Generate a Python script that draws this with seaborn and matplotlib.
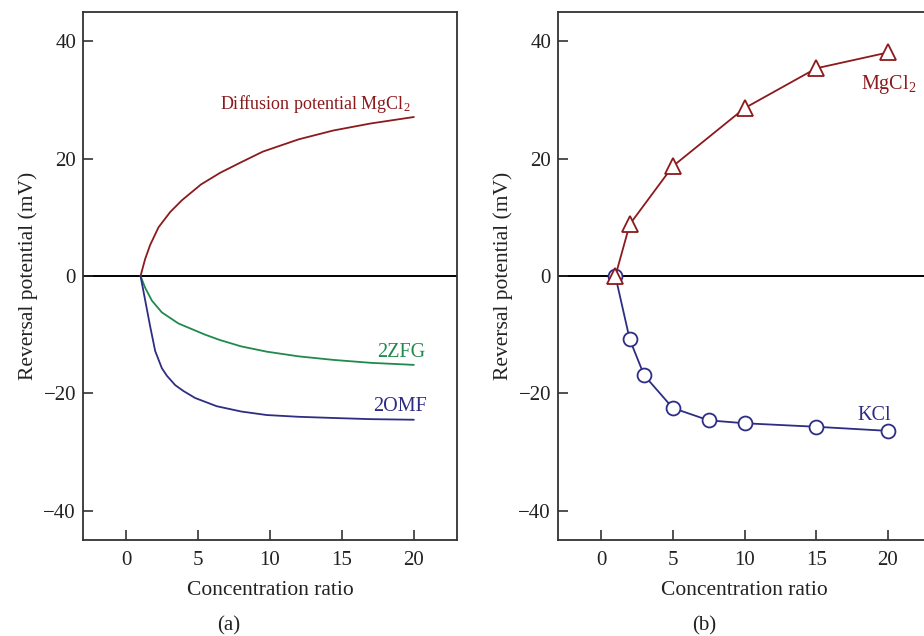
import matplotlib
matplotlib.use("Agg")
import matplotlib.pyplot as plt
import seaborn as sns

# ---- data ----
# panel (a): computed curves
diff_x = [1, 1.32, 1.67, 2.25, 3.06, 3.87, 5.2, 6.54, 8.0, 9.5, 12.0, 14.4, 17.0, 20.0]
diff_y = [0, 2.9, 5.3, 8.3, 10.9, 12.9, 15.6, 17.6, 19.4, 21.2, 23.3, 24.8, 26.0, 27.1]

zfg_x = [1, 1.32, 1.79, 2.48, 3.64, 5.49, 6.5, 8.0, 9.78, 12.0, 14.4, 17.0, 20.0]
zfg_y = [0, -2.0, -4.2, -6.2, -8.1, -10.0, -10.9, -12.0, -12.9, -13.7, -14.3, -14.8, -15.15]

omf_x = [1, 1.32, 1.67, 2.02, 2.48, 2.83, 3.41, 3.98, 4.8, 6.3, 8.0, 9.78, 12.0, 14.4, 17.0, 20.0]
omf_y = [0, -4.1, -8.6, -12.8, -15.7, -17.0, -18.6, -19.6, -20.8, -22.2, -23.1, -23.7, -24.0, -24.2, -24.4, -24.5]

# panel (b): measured points
mg_x = [1, 2, 5, 10, 15, 20]
mg_y = [0, 8.8, 18.7, 28.6, 35.4, 38.1]

kcl_x = [1, 2, 3, 5, 7.5, 10, 15, 20]
kcl_y = [0, -10.8, -16.9, -22.5, -24.6, -25.1, -25.7, -26.4]

xticks = [0, 5, 10, 15, 20]
yticks = [-40, -20, 0, 20, 40]

RED = "#8b1a1d"
GREEN = "#1f8a4c"
BLUE = "#2d2d84"

sns.set_theme(style="white")
plt.rcParams["font.family"] = ["Liberation Serif", "DejaVu Serif"]
plt.rcParams["mathtext.fontset"] = "custom"
plt.rcParams["mathtext.rm"] = "Liberation Serif"
plt.rcParams["mathtext.it"] = "Liberation Serif:italic"
plt.rcParams["mathtext.default"] = "rm"

fig = plt.figure(figsize=(9.24, 6.36), dpi=100)
ax1 = fig.add_axes([83 / 924, 96 / 636, 374 / 924, 528 / 636])
ax2 = fig.add_axes([558 / 924, 96 / 636, 373 / 924, 528 / 636])

lw = 1.3
sns.lineplot(x=diff_x, y=diff_y, ax=ax1, color=RED, lw=lw, sort=False)
sns.lineplot(x=zfg_x, y=zfg_y, ax=ax1, color=GREEN, lw=lw, sort=False)
sns.lineplot(x=omf_x, y=omf_y, ax=ax1, color=BLUE, lw=lw, sort=False)

sns.lineplot(x=kcl_x, y=kcl_y, ax=ax2, color=BLUE, lw=lw, marker="o",
             markersize=10, markerfacecolor="white", markeredgecolor=BLUE,
             markeredgewidth=1.3, sort=False)
sns.lineplot(x=mg_x, y=mg_y, ax=ax2, color=RED, lw=lw, marker="^",
             markersize=12, markerfacecolor="white", markeredgecolor=RED,
             markeredgewidth=1.3, sort=False)

fs_tick = 15
fs_lab = 15.5
for ax in (ax1, ax2):
    ax.axhline(0, color="black", lw=1.4, zorder=0)
    ax.set_xlim(-3, 23)
    ax.set_ylim(-45, 45)
    ax.set_xticks(xticks)
    ax.set_yticks(yticks)
    ax.set_yticklabels([str(t).replace("-", "\u2212") for t in yticks])
    ax.tick_params(axis="both", direction="in", length=7, width=1.1,
                   color="#222222", labelsize=fs_tick, labelcolor="#222222")
    ax.tick_params(axis="x", pad=8)
    ax.tick_params(axis="y", pad=5)
    ax.tick_params(left=True, bottom=True, right=False, top=False)
    for s in ax.spines.values():
        s.set_color("#333333")
        s.set_linewidth(1.3)
        s.set_visible(True)
    ax.set_xlabel("Concentration ratio", fontsize=fs_lab, color="#222222", labelpad=8)
    ax.set_ylabel("Reversal potential (mV)", fontsize=fs_lab, color="#222222", labelpad=4)

ax1.text(19.8, 29.4, "Diffusion potential MgCl$_2$", color=RED, fontsize=13,
         ha="right", va="center")
ax1.text(20.8, -13.0, "2ZFG", color=GREEN, fontsize=14.5, ha="right", va="center")
ax1.text(20.9, -22.2, "2OMF", color=BLUE, fontsize=14.5, ha="right", va="center")

ax2.text(21.95, 32.6, "MgCl$_2$", color=RED, fontsize=14.5, ha="right", va="center")
ax2.text(20.2, -23.8, "KCl", color=BLUE, fontsize=14.5, ha="right", va="center")

fig.text(229 / 924, 1 - 626 / 636, "(a)", fontsize=15, ha="center", va="center", color="#222222")
fig.text(704 / 924, 1 - 626 / 636, "(b)", fontsize=15, ha="center", va="center", color="#222222")

fig.savefig("out.png", dpi=100)
